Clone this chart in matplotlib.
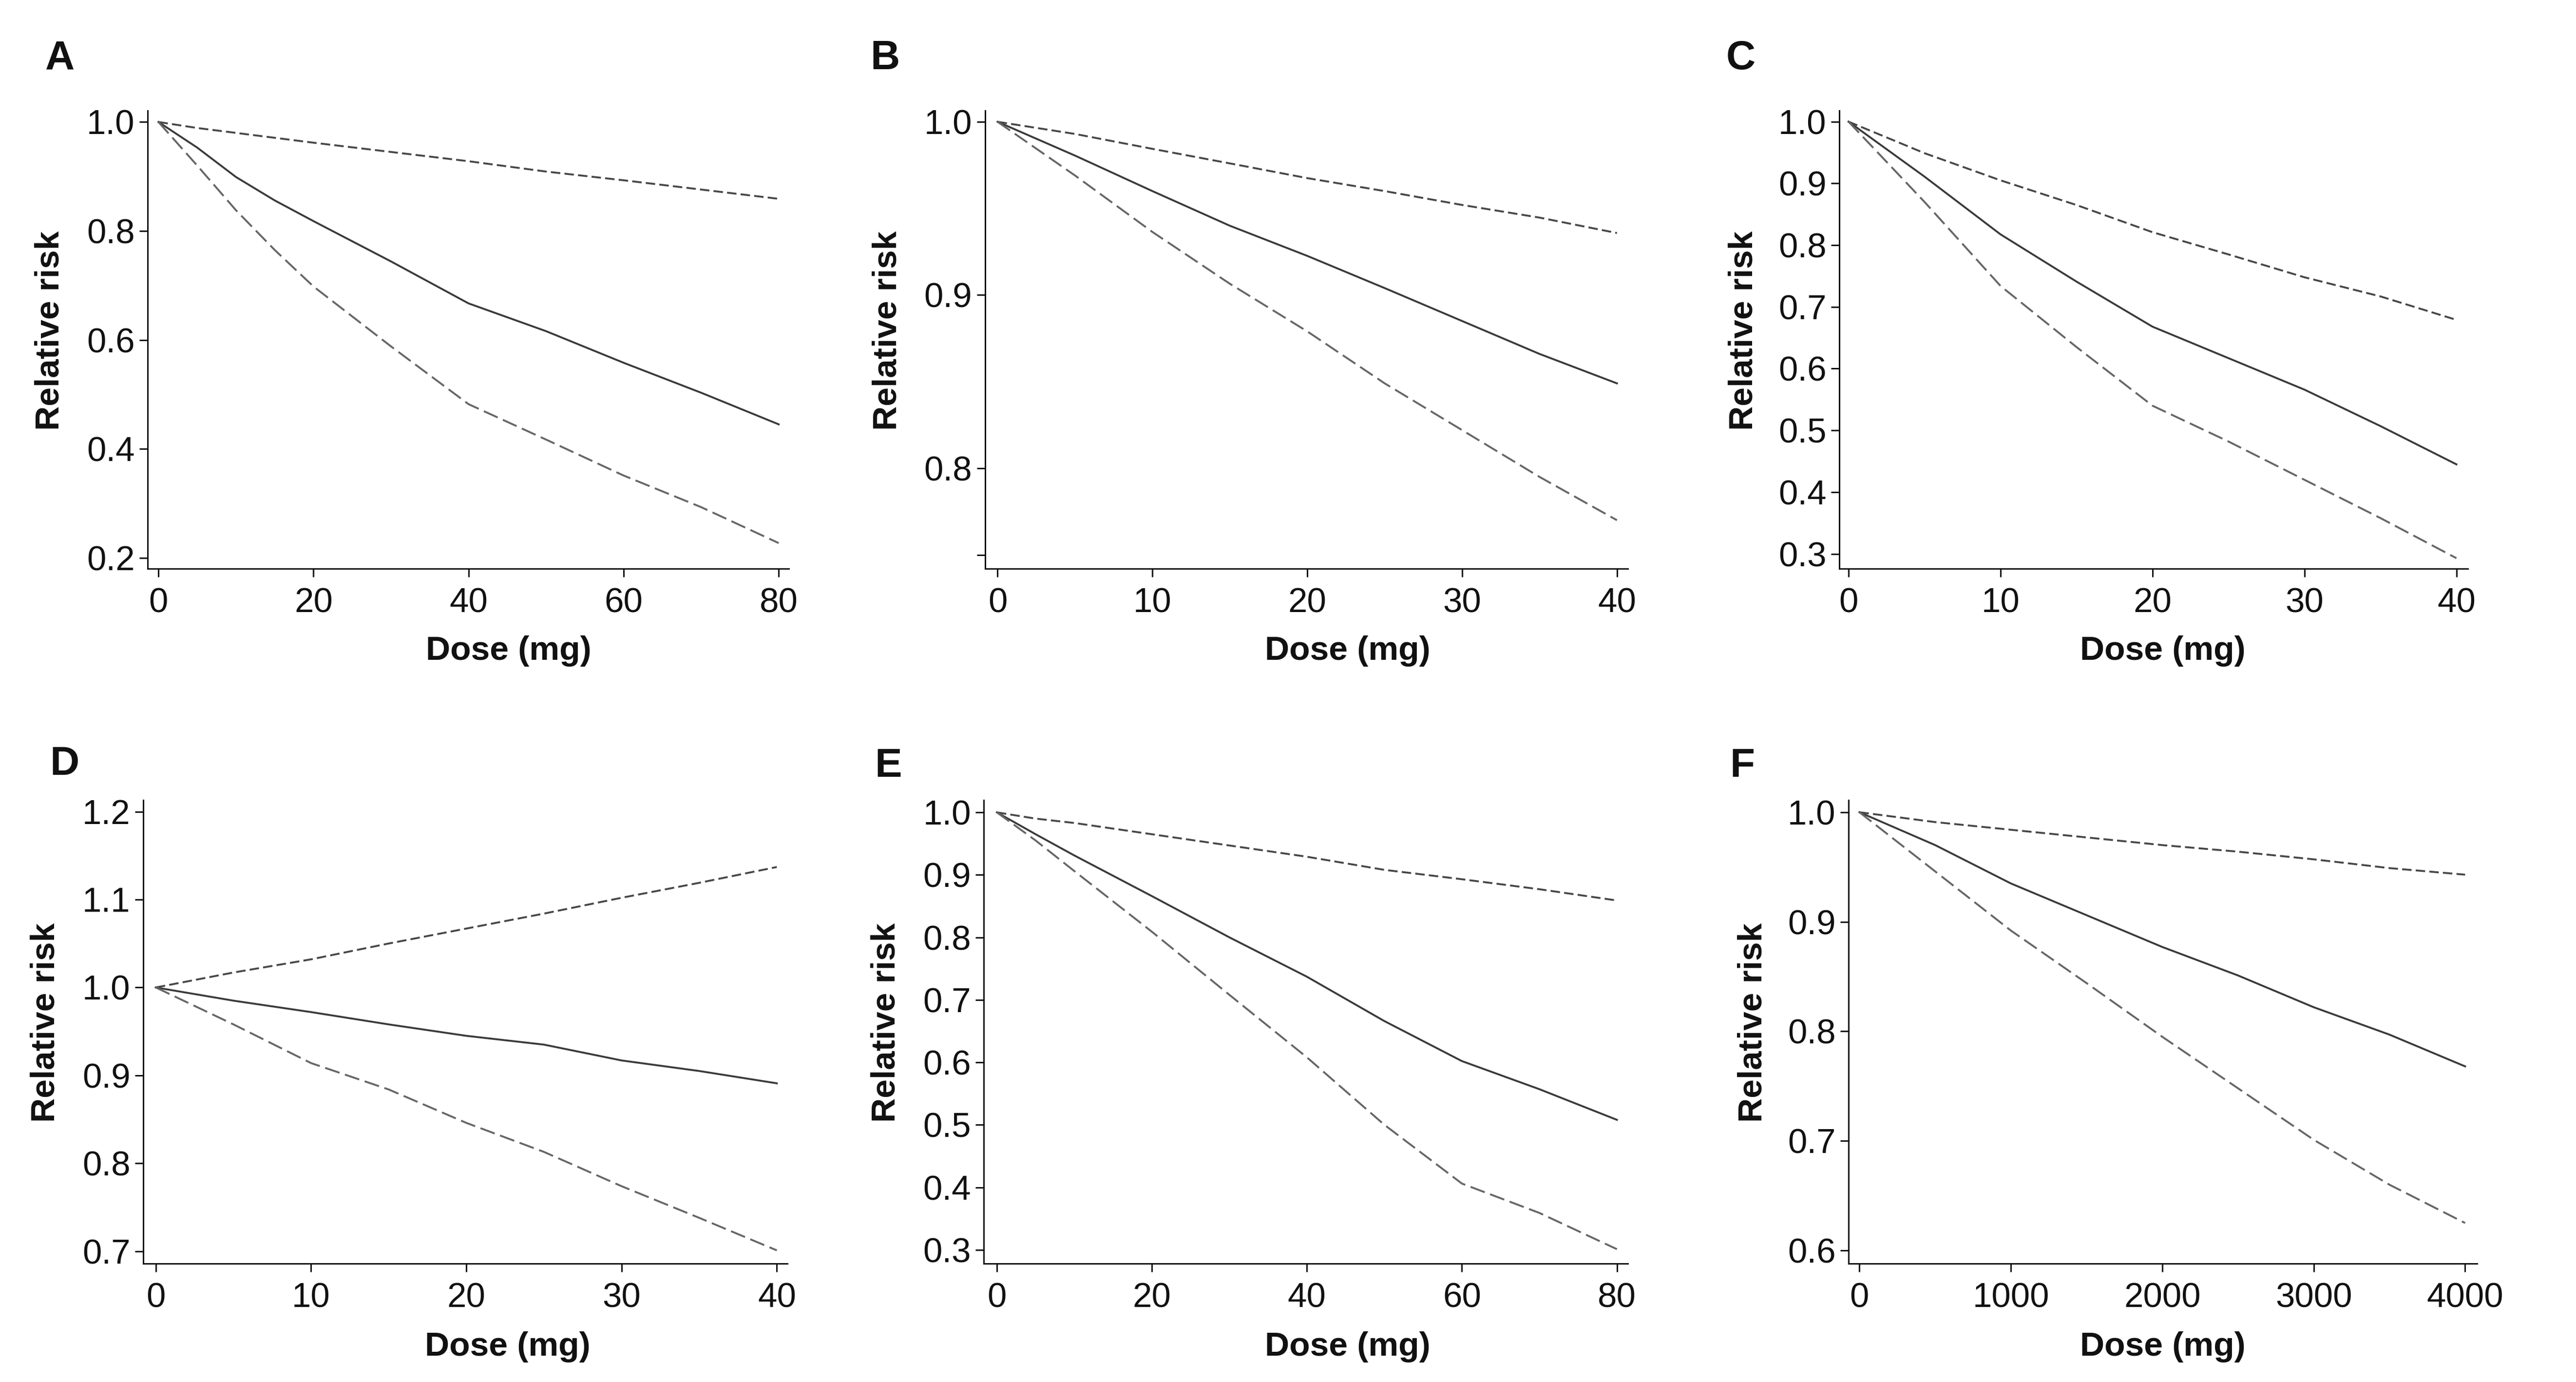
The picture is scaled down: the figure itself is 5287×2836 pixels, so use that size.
import matplotlib
matplotlib.use("Agg")
import matplotlib.pyplot as plt

plt.rcParams["font.family"] = ["Liberation Sans", "DejaVu Sans"]

# ---- data (dose, estimate, upper CI, lower CI) ----
dose_a = [0, 5, 10, 15, 20, 30, 40, 50, 60, 70, 80]
rr_a = [1.0, 0.953, 0.899, 0.856, 0.818, 0.744, 0.667, 0.616, 0.558, 0.503, 0.445]
up_a = [1.0, 0.989, 0.980, 0.971, 0.962, 0.945, 0.928, 0.909, 0.893, 0.876, 0.859]
lo_a = [1.0, 0.920, 0.838, 0.765, 0.698, 0.588, 0.482, 0.417, 0.351, 0.293, 0.227]

dose_b = [0, 5, 10, 15, 20, 25, 30, 35, 40]
rr_b = [1.0, 0.9805, 0.960, 0.940, 0.9226, 0.904, 0.885, 0.866, 0.849]
up_b = [1.0, 0.993, 0.9844, 0.976, 0.9675, 0.960, 0.952, 0.9447, 0.9358]
lo_b = [1.0, 0.969, 0.9364, 0.9065, 0.879, 0.849, 0.822, 0.795, 0.770]

dose_c = [0, 5, 10, 15, 20, 25, 30, 35, 40]
rr_c = [1.0, 0.911, 0.8175, 0.741, 0.668, 0.617, 0.566, 0.507, 0.445]
up_c = [1.0, 0.949, 0.905, 0.865, 0.821, 0.785, 0.748, 0.717, 0.679]
lo_c = [1.0, 0.870, 0.734, 0.635, 0.540, 0.482, 0.420, 0.358, 0.293]

dose_d = [0, 5, 10, 15, 20, 25, 30, 35, 40]
rr_d = [1.0, 0.985, 0.972, 0.958, 0.945, 0.935, 0.917, 0.905, 0.891]
up_d = [1.0, 1.017, 1.032, 1.050, 1.067, 1.084, 1.102, 1.119, 1.137]
lo_d = [1.0, 0.958, 0.914, 0.884, 0.846, 0.813, 0.774, 0.738, 0.701]

dose_e = [0, 5, 10, 20, 30, 40, 50, 60, 70, 80]
rr_e = [1.0, 0.965, 0.931, 0.866, 0.800, 0.737, 0.666, 0.602, 0.557, 0.508]
up_e = [1.0, 0.990, 0.983, 0.965, 0.947, 0.929, 0.908, 0.893, 0.877, 0.859]
lo_e = [1.0, 0.955, 0.906, 0.809, 0.708, 0.608, 0.500, 0.406, 0.359, 0.301]

dose_f = [0, 500, 1000, 1500, 2000, 2500, 3000, 3500, 4000]
rr_f = [1.0, 0.970, 0.935, 0.906, 0.877, 0.851, 0.822, 0.797, 0.768]
up_f = [1.0, 0.991, 0.984, 0.977, 0.970, 0.964, 0.957, 0.949, 0.943]
lo_f = [1.0, 0.946, 0.892, 0.844, 0.795, 0.748, 0.701, 0.660, 0.625]

panel_letters = ["A", "B", "C", "D", "E", "F"]
xticks_ab = [0, 20, 40, 60, 80]
xticks_40 = [0, 10, 20, 30, 40]
xticks_f = [0, 1000, 2000, 3000, 4000]
yticks_a = [0.2, 0.4, 0.6, 0.8, 1.0]
yticks_b = [0.75, 0.8, 0.9, 1.0]
yticks_b_labels = ["", "0.8", "0.9", "1.0"]
yticks_ce = [0.3, 0.4, 0.5, 0.6, 0.7, 0.8, 0.9, 1.0]
yticks_d = [0.7, 0.8, 0.9, 1.0, 1.1, 1.2]
yticks_f = [0.6, 0.7, 0.8, 0.9, 1.0]

panels = [
    dict(x=dose_a, rr=rr_a, up=up_a, lo=lo_a, xt=xticks_ab, yt=yticks_a, ytl=None,
         xlim=(-1.4, 81.3), ylim=(0.18, 1.021), pos=[0.0573, 0.5885, 0.2489, 0.3315], xl=0.563),
    dict(x=dose_b, rr=rr_b, up=up_b, lo=lo_b, xt=xticks_40, yt=yticks_b, ytl=yticks_b_labels,
         xlim=(-0.81, 40.7), ylim=(0.742, 1.0065), pos=[0.3824, 0.5885, 0.2495, 0.3315], xl=0.564),
    dict(x=dose_c, rr=rr_c, up=up_c, lo=lo_c, xt=xticks_40, yt=yticks_ce, ytl=None,
         xlim=(-0.61, 40.75), ylim=(0.276, 1.018), pos=[0.7140, 0.5885, 0.2440, 0.3315], xl=0.515),
    dict(x=dose_d, rr=rr_d, up=up_d, lo=lo_d, xt=xticks_40, yt=yticks_d, ytl=None,
         xlim=(-0.81, 40.67), ylim=(0.686, 1.213), pos=[0.0556, 0.0857, 0.2500, 0.3353], xl=0.566),
    dict(x=dose_e, rr=rr_e, up=up_e, lo=lo_e, xt=xticks_ab, yt=yticks_ce, ytl=None,
         xlim=(-1.69, 81.4), ylim=(0.278, 1.0195), pos=[0.3819, 0.0857, 0.2500, 0.3353], xl=0.565),
    dict(x=dose_f, rr=rr_f, up=up_f, lo=lo_f, xt=xticks_f, yt=yticks_f, ytl=None,
         xlim=(-72, 4079), ylim=(0.588, 1.011), pos=[0.7176, 0.0857, 0.2440, 0.3353], xl=0.50),
]

# panel letter positions in pixels of the 5287x2836 figure
letter_xy = [(123, 120), (1817, 120), (3573, 120), (132, 1568), (1823, 1572), (3576, 1572)]

W, H = 5287, 2836
fig = plt.figure(figsize=(W / 100, H / 100), dpi=100)

for i, p in enumerate(panels):
    ax = fig.add_axes(p["pos"])
    ax.plot(p["x"], p["rr"], color="#3a3a3a", lw=2.8, solid_joinstyle="round")
    ax.plot(p["x"], p["up"], color="#474747", lw=2.8, linestyle=(0, (5, 2.2)))
    ax.plot(p["x"], p["lo"], color="#666666", lw=2.8, linestyle=(0, (8, 3)))

    ax.set_xlim(*p["xlim"])
    ax.set_ylim(*p["ylim"])
    ax.set_xticks(p["xt"])
    ax.set_yticks(p["yt"])
    if p["ytl"] is not None:
        ax.set_yticklabels(p["ytl"])
    else:
        ax.set_yticklabels([f"{v:.1f}" for v in p["yt"]])

    for side in ["top", "right"]:
        ax.spines[side].set_visible(False)
    for side in ["left", "bottom"]:
        ax.spines[side].set_linewidth(2.2)
        ax.spines[side].set_color("#111111")

    ax.tick_params(axis="both", direction="out", length=12, width=2.2,
                   colors="#111111", labelsize=51)
    ax.tick_params(axis="y", pad=7)
    ax.tick_params(axis="x", pad=16)

    ax.text(p["xl"], -0.18, "Dose (mg)", transform=ax.transAxes,
            ha="center", va="center", fontsize=50, fontweight="bold", color="#111111")
    ax.text(-0.152, 0.52, "Relative risk", transform=ax.transAxes, rotation=90,
            ha="center", va="center", fontsize=50, fontweight="bold", color="#111111")

    lx, ly = letter_xy[i]
    fig.text(lx / W, 1 - ly / H, panel_letters[i], ha="center", va="center",
             fontsize=60, fontweight="bold", color="#111111")

fig.savefig("out.png", dpi=100, facecolor="white")
